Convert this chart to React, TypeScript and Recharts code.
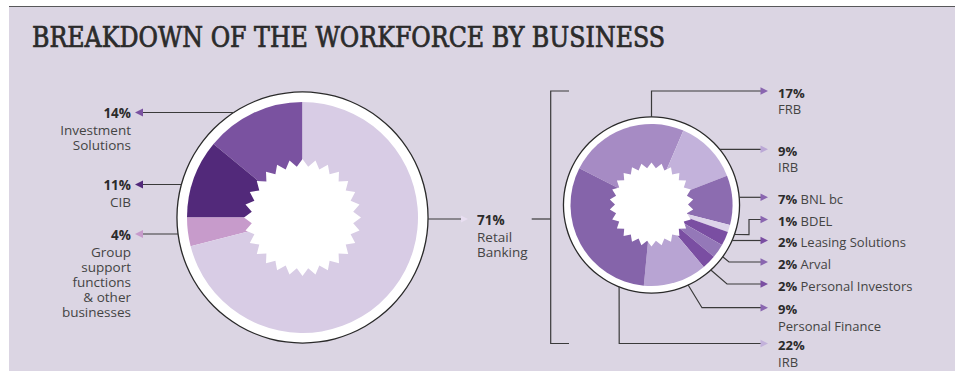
import React from 'react';
import { PieChart, Pie, Cell } from 'recharts';

// workforce split, % of total headcount
const groupNames = ['Investment Solutions', 'CIB', 'Group support functions & other businesses', 'Retail Banking'];
const groupValues = [14, 11, 4, 71];
const groupColors = ['#7a52a0', '#52297a', '#c79bcb', '#d8cce5'];
const groupLabelLines = [
  ['Investment', 'Solutions'],
  ['CIB'],
  ['Group', 'support', 'functions', '& other', 'businesses'],
  ['Retail', 'Banking'],
];

// retail banking detail (sums to 71)
const retailNames = ['FRB', 'IRB', 'BNL bc', 'BDEL', 'Leasing Solutions', 'Arval', 'Personal Investors', 'Personal Finance', 'IRB'];
const retailValues = [17, 9, 7, 1, 2, 2, 2, 9, 22];
const retailColors = ['#a68bc4', '#c3b2db', '#8c6cb0', '#ddd3ea', '#7a4ea2', '#9478b8', '#7a4ea2', '#b8a4d3', '#8564aa'];
const retailArrowColors = ['#8a66b0', '#bba8d6', '#8a66b0', '#8a66b0', '#7a4ea2', '#8a66b0', '#7a4ea2', '#8a66b0', '#c3b2db'];
const retailInline = [false, false, true, true, true, true, true, false, false];

const W = 958;
const H = 371;
const LEFT = { cx: 302.5, cy: 217.5, ring: 125.5, r: 115.5, starOut: 58.5, starIn: 51 };
const RIGHT = { cx: 651.5, cy: 205, ring: 88, r: 81, starOut: 42, starIn: 36.5 };

const LINE = '#3a3a3a';
const TXT = '#444';
const NUM = '#2b2b2b';
const FONT = "'Open Sans', 'Noto Sans', sans-serif";

// leader anchors (angle on outer ring) + bends
const leftLeaders = [
  { angle: 123, y: 112.5 },
  { angle: 164.7, y: 184.5 },
  { angle: 187.6, y: 234 },
];
const leftArrowColors = ['#7a52a0', '#52297a', '#c79bcb'];

const rightLeaders: { angle: number; via: number[][]; y: number }[] = [
  { angle: 90, via: [[651.5, 91]], y: 91 },
  { angle: 39.3, via: [], y: 149.3 },
  { angle: 5, via: [], y: 197.3 },
  { angle: -19.6, via: [[749, 234.6], [749, 219.5]], y: 219.5 },
  { angle: -23.8, via: [], y: 240.5 },
  { angle: -36, via: [[729, 262]], y: 262 },
  { angle: -47.6, via: [[727, 284]], y: 284 },
  { angle: -65.4, via: [[702, 307.7]], y: 307.7 },
  { angle: -111.6, via: [[619.2, 343.5]], y: 343.5 },
];

const onRing = (p: typeof LEFT, angle: number) => {
  const a = (angle * Math.PI) / 180;
  return [p.cx + p.ring * Math.cos(a), p.cy - p.ring * Math.sin(a)];
};

const star = (cx: number, cy: number, outer: number, inner: number, n: number, rot: number) => {
  const pts: string[] = [];
  for (let i = 0; i < n * 2; i++) {
    const r = i % 2 === 0 ? outer : inner;
    const a = rot + (i * Math.PI) / n;
    pts.push(`${(cx + r * Math.cos(a)).toFixed(1)},${(cy + r * Math.sin(a)).toFixed(1)}`);
  }
  return pts.join(' ');
};

const ringPies = (p: typeof LEFT, id: string) => [
  <Pie key={id + 'b'} data={[{ v: 1 }]} dataKey="v" cx={p.cx} cy={p.cy} outerRadius={p.ring + 0.7} innerRadius={0}
    stroke="none" fill="#2a2a2a" isAnimationActive={false} label={false} labelLine={false} />,
  <Pie key={id + 'w'} data={[{ v: 1 }]} dataKey="v" cx={p.cx} cy={p.cy} outerRadius={p.ring - 0.6} innerRadius={0}
    stroke="none" fill="#ffffff" isAnimationActive={false} label={false} labelLine={false} />,
];

const groupData = groupNames.map((name, i) => ({ name, value: groupValues[i] }));
const retailData = retailNames.map((name, i) => ({ name: name + i, value: retailValues[i] }));

const Overlay = () => {
  const retailAnchor = onRing(LEFT, -0.7);
  return (
    <svg width={W} height={H} style={{ position: 'absolute', left: 0, top: 0, pointerEvents: 'none' }}>
      <text x={32} y={47} fontFamily="'DejaVu Serif Condensed', 'DejaVu Serif', serif" fontStretch="condensed"
        fontSize={27} fill="#2b2b2b" stroke="#2b2b2b" strokeWidth={0.7} textLength={633} lengthAdjust="spacingAndGlyphs">
        BREAKDOWN OF THE WORKFORCE BY BUSINESS
      </text>

      <polygon points={star(LEFT.cx, LEFT.cy, LEFT.starOut, LEFT.starIn, 28, -Math.PI / 2)} fill="#fff" />
      <polygon points={star(RIGHT.cx, RIGHT.cy - 0.5, RIGHT.starOut, RIGHT.starIn, 26, -Math.PI / 2)} fill="#fff" />

      {/* left pie labels */}
      {leftLeaders.map((l, i) => {
        const [ax] = onRing(LEFT, l.angle);
        return (
          <g key={'l' + i}>
            <line x1={143} y1={l.y} x2={ax} y2={l.y} stroke={LINE} strokeWidth={1.2} />
            <polygon points={`135,${l.y} 143,${l.y - 4} 143,${l.y + 4}`} fill={leftArrowColors[i]} />
            <text textAnchor="end" fontFamily={FONT} fontSize={13.5} fill={TXT}>
              <tspan x={131} y={l.y + 5.5} fontWeight={700} fill={NUM}>{groupValues[i]}%</tspan>
              {groupLabelLines[i].map((t, k) => (
                <tspan key={k} x={131} y={l.y + 22.5 + k * 15}>{t}</tspan>
              ))}
            </text>
          </g>
        );
      })}

      {/* retail banking label + bracket */}
      <line x1={retailAnchor[0]} y1={219} x2={461} y2={219} stroke={LINE} strokeWidth={1.2} />
      <polygon points="468,219 461,215.5 461,222.5" fill="#e8def1" />
      <text fontFamily={FONT} fontSize={13.5} fill={TXT}>
        <tspan x={477} y={224.5} fontWeight={700} fill={NUM}>{groupValues[3]}%</tspan>
        {groupLabelLines[3].map((t, k) => (
          <tspan key={k} x={477} y={241.5 + k * 15}>{t}</tspan>
        ))}
      </text>
      <polyline points="531.7,219 550.7,219" fill="none" stroke={LINE} strokeWidth={1.2} />
      <polyline points="569,91 550.7,91 550.7,343.5 569,343.5" fill="none" stroke={LINE} strokeWidth={1.2} />

      {/* right pie labels */}
      {rightLeaders.map((l, i) => {
        const [ax, ay] = onRing(RIGHT, l.angle);
        const pts = [[ax, l.via.length ? ay : l.y], ...l.via, [762, l.y]].map((p) => p.join(',')).join(' ');
        return (
          <g key={'r' + i}>
            <polyline points={pts} fill="none" stroke={LINE} strokeWidth={1.2} />
            <polygon points={`768,${l.y} 760.5,${l.y - 3.8} 760.5,${l.y + 3.8}`} fill={retailArrowColors[i]} />
            <text fontFamily={FONT} fontSize={13} fill={TXT}>
              <tspan x={778} y={l.y + 6.5} fontWeight={700} fill={NUM}>{retailValues[i]}%</tspan>
              {retailInline[i]
                ? <tspan> {retailNames[i]}</tspan>
                : <tspan x={778} y={l.y + 23}>{retailNames[i]}</tspan>}
            </text>
          </g>
        );
      })}
    </svg>
  );
};

export default function App() {
  return (
    <div style={{ position: 'absolute', left: 0, top: 0, width: W, height: H, background: '#fff' }}>
      <div style={{ position: 'absolute', left: 9, top: 6, width: 946, height: H - 6, background: '#dbd5e3', borderTop: '1.5px solid #58585a', boxSizing: 'border-box' }} />
      <div style={{ position: 'absolute', left: 0, top: 0 }}>
        <PieChart width={W} height={H} margin={{ top: 0, right: 0, bottom: 0, left: 0 }}>
          {ringPies(LEFT, 'L')}
          <Pie data={groupData} dataKey="value" cx={LEFT.cx} cy={LEFT.cy} outerRadius={LEFT.r} innerRadius={0}
            startAngle={90} endAngle={450} stroke="none" isAnimationActive={false} label={false} labelLine={false}>
            {groupData.map((d, i) => <Cell key={d.name} fill={groupColors[i]} />)}
          </Pie>
          {ringPies(RIGHT, 'R')}
          <Pie data={retailData} dataKey="value" cx={RIGHT.cx} cy={RIGHT.cy} outerRadius={RIGHT.r} innerRadius={0}
            startAngle={153} endAngle={-207} stroke="none" isAnimationActive={false} label={false} labelLine={false}>
            {retailData.map((d, i) => <Cell key={d.name} fill={retailColors[i]} />)}
          </Pie>
        </PieChart>
      </div>
      <Overlay />
    </div>
  );
}
